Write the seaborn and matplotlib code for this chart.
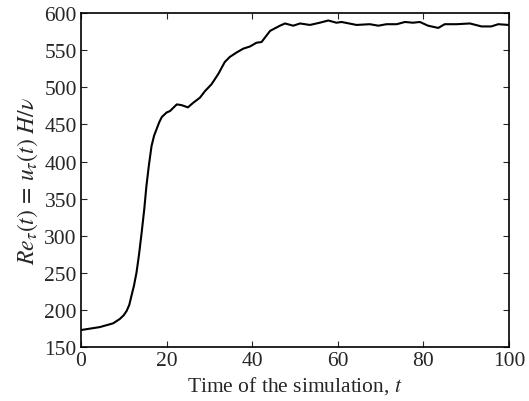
import numpy as np
import pandas as pd
import seaborn as sns
import matplotlib
matplotlib.use("Agg")
import matplotlib.pyplot as plt

# values
t = [0, 4.4, 7.5, 9.1, 10.0, 10.7, 11.3, 11.8, 12.4, 13.0, 13.6, 14.2, 14.8, 15.3,
     15.9, 16.5, 17.1, 17.7, 18.3, 18.9, 20.0, 20.8,
     22.4, 23.5, 25.0, 26.2, 27.8, 29.0, 30.5, 32.1, 33.6, 34.8, 36.4, 37.9, 39.5,
     41.0, 42.2, 43.4, 44.2, 46.5, 47.7, 49.6, 51.2, 53.5, 55.8, 57.8, 59.7, 60.9,
     64.4, 67.5, 69.5, 71.4, 73.8, 75.7, 77.6, 79.2, 81.1, 83.5, 85.0, 87.8, 90.9,
     93.6, 95.9, 97.5, 100]
re_tau = [173, 177, 182, 188, 193, 199, 207, 219, 233, 251, 276, 305, 336, 367,
          396, 421, 435, 444, 453, 460, 466, 468,
          477, 476, 473, 479, 486, 495, 504, 518, 534, 541, 547, 552, 555,
          560, 561, 570, 576, 583, 586, 583, 586, 584, 587, 590, 587, 588,
          584, 585, 583, 585, 585, 588, 587, 588, 583, 580, 585, 585, 586,
          582, 582, 585, 584]

df = pd.DataFrame({"t": t, "Re": re_tau})

sns.set_style("ticks")
plt.rcParams["font.family"] = ["Liberation Serif", "DejaVu Serif"]
plt.rcParams["mathtext.fontset"] = "stix"

fig, ax = plt.subplots(figsize=(5.29, 4.02), dpi=100)
fig.subplots_adjust(left=0.153, right=0.962, top=0.965, bottom=0.134)

sns.lineplot(data=df, x="t", y="Re", color="black", linewidth=1.5, ax=ax)

ax.set_xlim(0, 100)
ax.set_ylim(150, 600)
ax.set_xticks(range(0, 101, 20))
ax.set_yticks(range(150, 601, 50))
ax.tick_params(direction="in", length=4, width=0.8, top=True, right=True,
               labelsize=15.5, pad=3)
for s in ax.spines.values():
    s.set_linewidth(1.2)
    s.set_color("black")

ax.set_xlabel("Time of the simulation, $t$", fontsize=15.5, labelpad=3)
ax.set_ylabel(r"$Re_\tau(t)\,=\,u_\tau(t)\ H/\nu$", fontsize=17, labelpad=3)

fig.savefig("out.png", dpi=100)
